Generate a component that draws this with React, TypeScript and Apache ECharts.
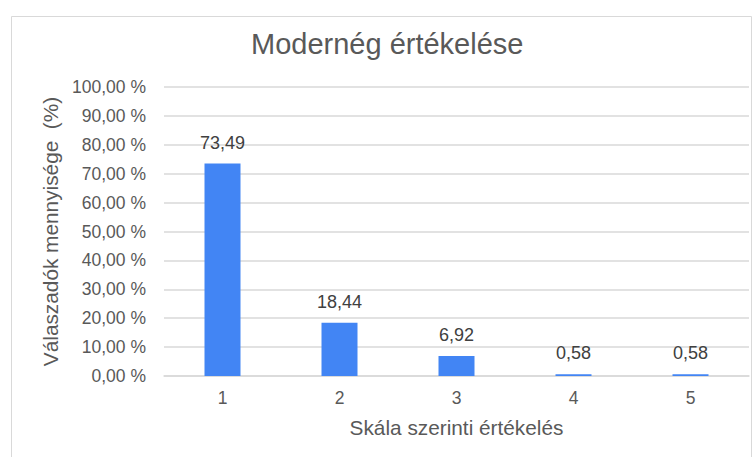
import React, { useEffect, useRef } from "react";
import * as echarts from "echarts";

const categories = ["1", "2", "3", "4", "5"];
const values = [73.49, 18.44, 6.92, 0.58, 0.58];
const titleText = "Modernég értékelése";
const xAxisName = "Skála szerinti értékelés";
const yAxisName = "Válaszadók mennyisége  (%)";

const fmtComma = (v: number) => v.toFixed(2).replace(".", ",");

export default function App() {
  const ref = useRef<HTMLDivElement>(null);
  useEffect(() => {
    if (!ref.current) return;
    const chart = echarts.init(ref.current, undefined, { renderer: "svg" });
    const font = "'Liberation Sans', Arial, sans-serif";
    chart.setOption({
      animation: false,
      backgroundColor: "#ffffff",
      title: {
        text: titleText,
        left: 251,
        top: 29,
        padding: 0,
        textStyle: { fontFamily: font, fontSize: 29, fontWeight: "normal", color: "#595959" },
      },
      graphic: [
        {
          type: "rect",
          shape: { x: 11.5, y: 16.5, width: 740, height: 460 },
          style: { fill: "none", stroke: "#d9d9d9", lineWidth: 1 },
          silent: true,
        },
      ],
      grid: { left: 164, right: 4, top: 87, bottom: 81, containLabel: false },
      xAxis: {
        type: "category",
        data: categories,
        name: xAxisName,
        nameLocation: "middle",
        nameGap: 41,
        nameTextStyle: { fontFamily: font, fontSize: 20.8, color: "#595959" },
        axisLine: { lineStyle: { color: "#d9d9d9", width: 1.5 } },
        axisTick: { show: false },
        axisLabel: { fontFamily: font, fontSize: 17.5, color: "#595959", margin: 13 },
      },
      yAxis: {
        type: "value",
        min: 0,
        max: 100,
        interval: 10,
        name: yAxisName,
        nameLocation: "middle",
        nameGap: 102,
        nameTextStyle: { fontFamily: font, fontSize: 20.8, color: "#595959" },
        axisLine: { show: false },
        axisTick: { show: false },
        splitLine: { lineStyle: { color: "#d9d9d9", width: 1.5 } },
        axisLabel: {
          fontFamily: font,
          fontSize: 17.5,
          color: "#595959",
          margin: 18,
          formatter: (v: number) => fmtComma(v) + " %",
        },
      },
      series: [
        {
          type: "bar",
          data: values,
          barWidth: 36,
          itemStyle: { color: "#4285f4" },
          label: {
            show: true,
            position: "top",
            distance: 12,
            fontFamily: font,
            fontSize: 18,
            color: "#404040",
            formatter: (p: any) => fmtComma(p.value),
          },
        },
      ],
    });
    return () => chart.dispose();
  }, []);
  return (
    <div
      ref={ref}
      style={{ position: "fixed", left: 0, top: 0, width: 753, height: 457 }}
    />
  );
}
